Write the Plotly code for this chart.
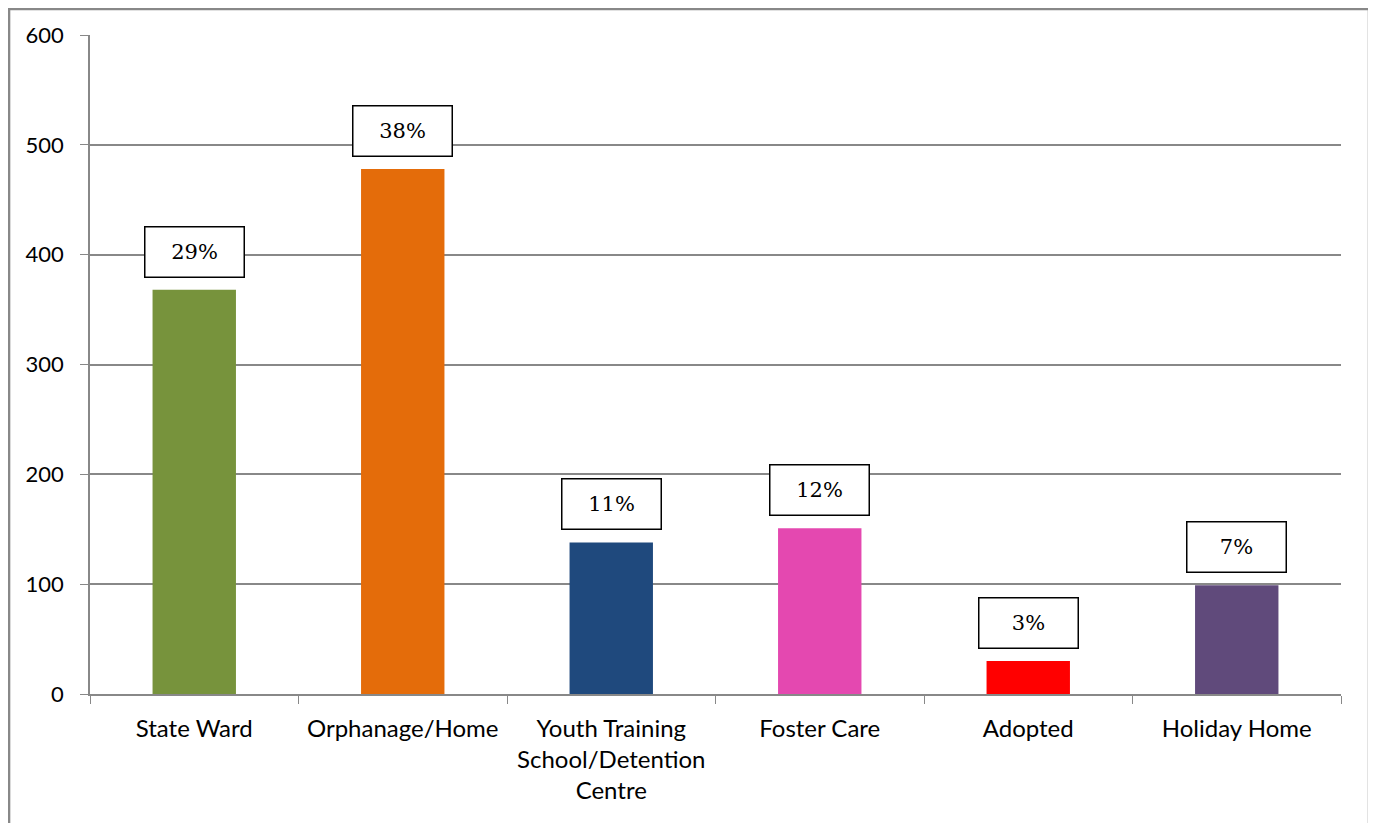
import plotly.graph_objects as go

categories = ["State Ward", "Orphanage/Home", "Youth Training<br>School/Detention<br>Centre",
              "Foster Care", "Adopted", "Holiday Home"]
counts = [368, 478, 138, 151, 30, 99]
shares = ["29%", "38%", "11%", "12%", "3%", "7%"]
colors = ["#77933C", "#E46C0A", "#1F497D", "#E448B0", "#FF0000", "#604A7B"]

grey = "#888888"

fig = go.Figure(go.Bar(x=categories, y=counts, marker_color=colors, marker_line_width=0))

for cat, val, lab in zip(categories, counts, shares):
    fig.add_annotation(
        x=cat, y=val, text=lab, showarrow=False, yanchor="bottom", yshift=12,
        width=96, height=47, borderpad=1, borderwidth=1.5, bordercolor="black",
        bgcolor="white", font=dict(family="DejaVu Serif", size=21, color="black"),
    )

# outer chart frame
fig.add_shape(type="rect", xref="paper", yref="paper",
              x0=-0.0647, x1=1.0224, y0=-0.25, y1=1.0395,
              line=dict(color=grey, width=2.5), layer="below")

fig.update_layout(
    width=1376, height=823,
    margin=dict(l=82, r=43, t=27, b=137),
    plot_bgcolor="white", paper_bgcolor="white",
    bargap=0.6, showlegend=False,
    font=dict(family="Lato", size=22, color="black"),
)
fig.update_yaxes(range=[0, 600], dtick=100, showgrid=True, gridcolor=grey, gridwidth=1.5,
                 showline=True, linecolor=grey, linewidth=1.5,
                 ticks="outside", ticklen=8, tickcolor=grey, zeroline=False, ticklabelstandoff=12)
fig.update_xaxes(showline=True, linecolor=grey, linewidth=1.5, tickson="boundaries",
                 ticks="outside", ticklen=8, tickcolor=grey, tickangle=0,
                 tickfont=dict(size=24), ticklabelstandoff=12)

fig.write_html("out.html")
